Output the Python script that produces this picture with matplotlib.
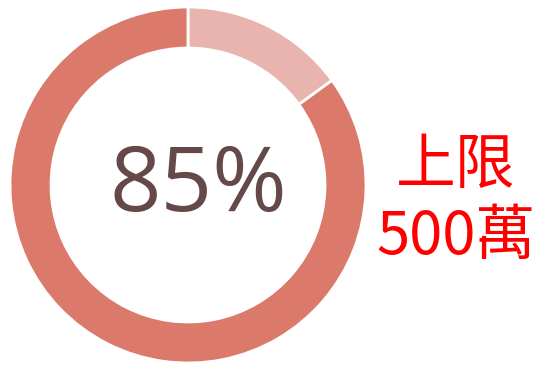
import matplotlib.pyplot as plt

plt.rcParams["font.family"] = ["Noto Sans CJK TC", "DejaVu Sans"]

# share of the limit (remaining part first, clockwise from 12 o'clock)
labels = ["remaining", "used"]
values = [15, 85]
colors = ["#E8B4AD", "#DB7A6B"]
center_label = "85%"
side_label = "上限\n500萬"

fig = plt.figure(figsize=(5.4, 3.66), dpi=100)
ax = fig.add_axes([0, 0, 1, 1])

ax.pie(values, colors=colors, startangle=90, counterclock=False,
       center=(188, 181), radius=178, frame=True,
       wedgeprops=dict(width=41, edgecolor="white", linewidth=2))
ax.set_xlim(0, 540)
ax.set_ylim(0, 366)
ax.set_aspect("equal")
ax.axis("off")

ax.text(198, 178, center_label, ha="center", va="center",
        fontsize=65, color="#654848", family=["Open Sans", "DejaVu Sans"])
ax.text(456, 164, side_label, ha="center", va="center",
        fontsize=43, color="#FF0000", linespacing=1.2)

fig.savefig("out.png", dpi=100)
